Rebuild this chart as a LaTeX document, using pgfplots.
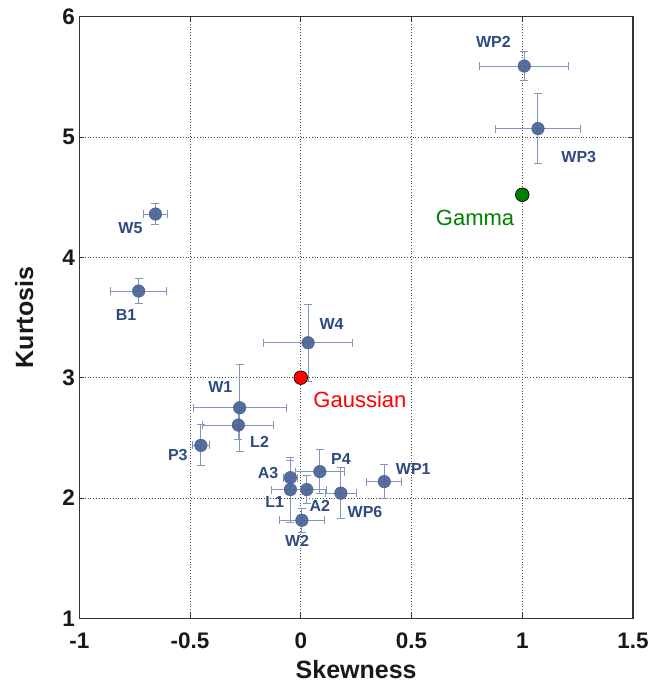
\documentclass[border=0pt]{standalone}
\usepackage{pgfplots}
\pgfplotsset{compat=1.18}
\usepackage{pgfplotstable}
\usepackage{fontspec}
\setmainfont{Liberation Sans}
\definecolor{markblue}{HTML}{4A6296}
\definecolor{errblue}{HTML}{8396BF}
\definecolor{labblue}{HTML}{2F4A80}
\definecolor{gammagreen}{HTML}{007F00}

% skewness, kurtosis and their errors
\pgfplotstableread{
x      y      ex     ey
-0.656 4.36   0.052  0.09
-0.732 3.72   0.126  0.10
1.009  5.59   0.20   0.12
1.071  5.07   0.19   0.29
0.033  3.29   0.20   0.32
-0.276 2.75   0.21   0.36
-0.282 2.606  0.16   0.12
-0.451 2.437  0.04   0.17
-0.047 2.169  0.03   0.14
-0.047 2.07   0.083  0.27
0.027  2.07   0.09   0.12
0.086  2.219  0.11   0.18
0.181  2.04   0.07   0.21
0.005  1.815  0.10   0.10
0.377  2.136  0.08   0.14
}\datatable

\begin{document}
\begin{tikzpicture}
\begin{axis}[
  scale only axis,width=553.7pt,height=601.6pt,
  xmin=-1,xmax=1.5,ymin=1,ymax=6,
  xtick={-1,-0.5,0,0.5,1,1.5},ytick={1,2,3,4,5,6},
  grid=major,grid style={black!70,line width=0.7pt,dash pattern=on 0.8pt off 2pt},
  axis line style={black!80,line width=1.1pt},
  tick align=inside,major tick length=5pt,tick style={black!80,line width=0.8pt},
  ticklabel style={font=\fontsize{22.5}{24}\selectfont\bfseries,text=black!90},
  xticklabel style={yshift=-11pt},
  yticklabel style={xshift=-1pt},
  /pgf/number format/assume math mode=true,
  xlabel={Skewness},ylabel={Kurtosis},
  label style={font=\fontsize{25}{28}\selectfont\bfseries,text=black!90},
  xlabel style={yshift=-5pt},ylabel style={yshift=22pt},
  clip=false,
]
% error bars first, markers on top
\addplot[draw=none,mark=none,
  error bars/.cd,x dir=both,x explicit,y dir=both,y explicit,
  error bar style={draw=errblue,line width=1pt},
  error mark options={draw=errblue,rotate=90,mark size=4pt,line width=1pt}]
  table[x=x,y=y,x error=ex,y error=ey]{\datatable};
\addplot[only marks,mark=*,mark size=6.3pt,
  mark options={fill=markblue,draw=markblue!90!black,fill opacity=0.92}]
  table[x=x,y=y]{\datatable};
\addplot[only marks,mark=*,mark size=6.8pt,mark options={fill=red,draw=black,line width=0.7pt}]
  coordinates {(0,3)};
\addplot[only marks,mark=*,mark size=6.8pt,mark options={fill=gammagreen,draw=black,line width=0.7pt}]
  coordinates {(1,4.52)};

\begin{scope}[every node/.style={font=\fontsize{16}{18}\selectfont\bfseries,text=labblue}]
\node at (axis cs:-0.769,4.24) {W5};
\node at (axis cs:-0.789,3.52) {B1};
\node at (axis cs:0.87,5.79) {WP2};
\node at (axis cs:1.255,4.83) {WP3};
\node at (axis cs:0.139,3.45) {W4};
\node at (axis cs:-0.363,2.925) {W1};
\node at (axis cs:-0.186,2.465) {L2};
\node at (axis cs:-0.555,2.357) {P3};
\node at (axis cs:-0.148,2.21) {A3};
\node at (axis cs:0.181,2.32) {P4};
\node at (axis cs:-0.118,1.967) {L1};
\node at (axis cs:0.086,1.93) {A2};
\node at (axis cs:0.29,1.88) {WP6};
\node at (axis cs:-0.017,1.64) {W2};
\node at (axis cs:0.508,2.244) {WP1};
\end{scope}
\node[font=\fontsize{22}{24}\selectfont,text=red] at (axis cs:0.267,2.82) {Gaussian};
\node[font=\fontsize{22}{24}\selectfont,text=gammagreen] at (axis cs:0.787,4.33) {Gamma};
\end{axis}
\pgfresetboundingbox
\path[use as bounding box] (current axis.south west) ++(-79.3pt,-69.7pt) rectangle ++(667pt,688pt);
\end{tikzpicture}
\end{document}
